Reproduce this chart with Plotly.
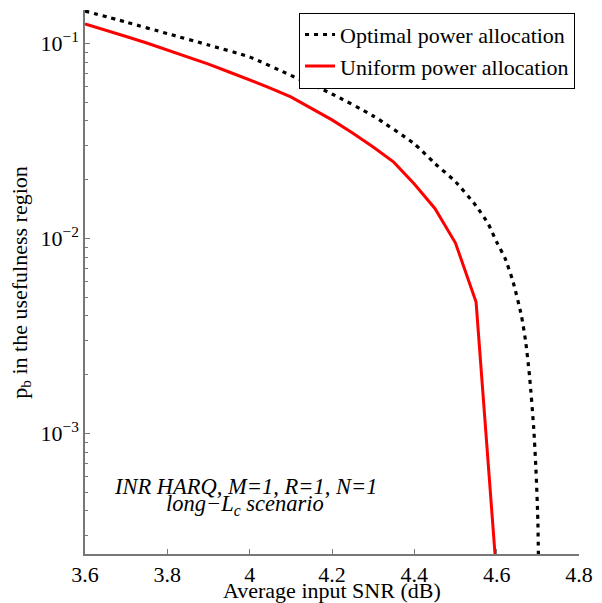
import plotly.graph_objects as go

# Average input SNR (dB) grid and p_b in the usefulness region
snr_uniform = [3.60, 3.65, 3.70, 3.75, 3.80, 3.85, 3.90, 3.95, 4.00, 4.05,
               4.10, 4.15, 4.20, 4.25, 4.30, 4.35, 4.40, 4.45, 4.50, 4.55, 4.60]
pb_uniform = [0.1256, 0.117, 0.1084, 0.1004, 0.0924, 0.0851, 0.0783, 0.0713,
              0.0649, 0.059, 0.0531, 0.0466, 0.0405, 0.0347, 0.0294, 0.0246,
              0.0190, 0.01423, 0.00946, 0.00471, 0.000185]

snr_optimal = [3.60, 3.70, 3.80, 3.90, 4.00, 4.10, 4.20, 4.30, 4.40, 4.45,
               4.50, 4.55, 4.58, 4.60, 4.62, 4.64, 4.66, 4.67, 4.68, 4.69,
               4.695, 4.70, 4.703]
pb_optimal = [0.1465, 0.1285, 0.1122, 0.098, 0.085, 0.0685, 0.055, 0.0424,
              0.0305, 0.0242, 0.0195, 0.01466, 0.0118, 0.00957, 0.00793,
              0.00597, 0.00402, 0.00300, 0.00195, 0.00106, 0.00068,
              0.00036, 0.00012]

x_ticks = [3.6, 3.8, 4.0, 4.2, 4.4, 4.6, 4.8]
x_ticktext = ["3.6", "3.8", "4", "4.2", "4.4", "4.6", "4.8"]
y_ticks = [1e-3, 1e-2, 1e-1]
y_ticktext = ["10<sup>\u22123</sup>", "10<sup>\u22122</sup>", "10<sup>\u22121</sup>"]
y_minor = [m * 10.0 ** e for e in (-4, -3, -2, -1) for m in range(2, 10)]

FONT = "Liberation Serif, Times New Roman, serif"
AXIS_COLOR = "#777777"

fig = go.Figure()
fig.add_trace(go.Scatter(
    x=snr_optimal, y=pb_optimal, mode="lines",
    name="Optimal power allocation",
    line=dict(color="black", width=3.2, dash="4px,5px", shape="spline",
              smoothing=0.6),
))
fig.add_trace(go.Scatter(
    x=snr_uniform, y=pb_uniform, mode="lines",
    name="Uniform power allocation",
    line=dict(color="#ff0000", width=3),
))

fig.update_layout(
    width=602, height=603,
    margin=dict(l=85, r=23, t=10, b=49),
    paper_bgcolor="white", plot_bgcolor="white",
    font=dict(family=FONT, size=22, color="black"),
    showlegend=True,
    legend=dict(
        x=0.992, y=0.995, xanchor="right", yanchor="top",
        bordercolor="black", borderwidth=1, bgcolor="white",
        font=dict(family=FONT, size=22, color="black"),
        itemwidth=30, tracegroupgap=0,
    ),
    xaxis=dict(
        range=[3.6, 4.8], tickvals=x_ticks, ticktext=x_ticktext,
        ticks="inside", ticklen=5, tickcolor=AXIS_COLOR,
        showline=True, linecolor=AXIS_COLOR, linewidth=1.5,
        showgrid=False, zeroline=False, automargin=False,
        tickfont=dict(family=FONT, size=22, color="black"),
    ),
    yaxis=dict(
        type="log", range=[-3.619, -0.829],
        tickvals=y_ticks, ticktext=y_ticktext,
        ticks="inside", ticklen=5, tickcolor=AXIS_COLOR,
        minor=dict(tickvals=y_minor, ticks="inside", ticklen=3,
                   tickcolor=AXIS_COLOR),
        showline=True, linecolor=AXIS_COLOR, linewidth=1.5,
        showgrid=False, zeroline=False, automargin=False,
        tickfont=dict(family=FONT, size=22, color="black"),
    ),
    annotations=[
        dict(text="Average input SNR (dB)",
             xref="paper", yref="paper", x=0.5, y=(554 - 605) / 544,
             xanchor="center", yanchor="bottom", showarrow=False,
             font=dict(family=FONT, size=22, color="black")),
        dict(text="p<sub>b</sub> in the usefulness region", textangle=-90,
             xref="paper", yref="paper", x=-0.13, y=0.5,
             xanchor="center", yanchor="middle", showarrow=False,
             font=dict(family=FONT, size=22, color="black")),
        dict(text="<i>INR HARQ, M=1, R=1, N=1</i>",
             xref="paper", yref="paper", x=0.324, y=(554 - 486) / 544,
             xanchor="center", yanchor="middle", showarrow=False,
             font=dict(family=FONT, size=22.5, color="black")),
        dict(text="<i>long\u2212L<sub>c</sub> scenario</i>",
             xref="paper", yref="paper", x=0.324, y=(554 - 505) / 544,
             xanchor="center", yanchor="middle", showarrow=False,
             font=dict(family=FONT, size=22.5, color="black")),
    ],
)

fig.write_html("out.html")
